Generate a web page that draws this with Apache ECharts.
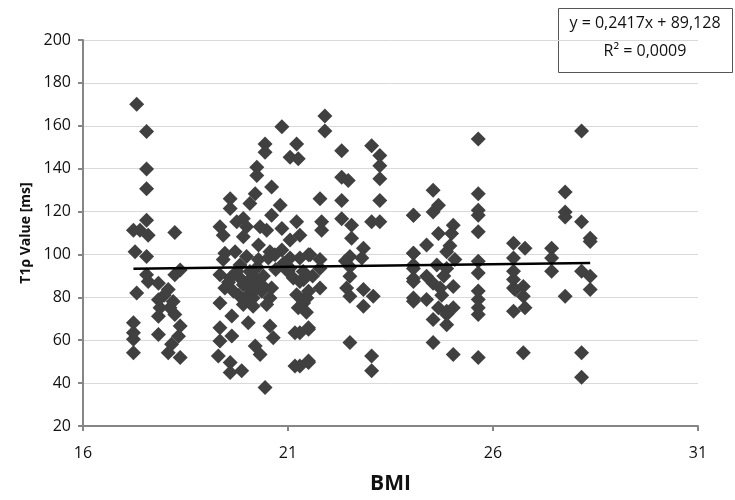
<!DOCTYPE html>
<html>
<head>
<meta charset="utf-8">
<script src="https://cdn.jsdelivr.net/npm/echarts@6/dist/echarts.min.js"></script>
<style>
  html, body { margin: 0; padding: 0; background: #fff; }
  #chart { width: 735px; height: 500px; }
</style>
</head>
<body>
<div id="chart"></div>
<script>
// BMI (x) and T1rho value in ms (y)
var bmiValues = [
  17.31, 17.55, 17.55, 17.55, 17.55, 17.23, 17.39, 17.59, 17.27, 17.55, 17.55, 17.59, 17.31, 17.84, 18.08, 18.24, 18.37, 18.24,
  17.23, 17.23, 17.23, 17.23, 17.84, 17.88, 17.84, 17.84, 18.12, 18.24, 18.37, 18.33, 18.16, 18.08, 18.37, 17.98, 18.20,
  20.85, 20.44, 20.44, 21.21, 21.05, 21.25, 20.24, 20.24, 20.60, 19.59, 19.59, 20.20, 20.07, 20.81, 19.34, 19.42, 19.75, 19.91,
  19.99, 19.91, 20.32, 20.48, 20.60, 20.85, 21.21, 21.05, 21.29, 20.28, 20.56, 20.85, 21.54, 19.46, 19.71, 19.42, 19.99, 20.28,
  20.52, 20.68, 21.05, 21.29, 19.34, 19.59, 19.83, 20.07, 19.46, 19.67, 19.91, 20.03, 20.15, 19.91, 20.15, 20.36, 20.60, 20.56,
  20.48, 21.05, 21.13, 21.38, 21.21, 21.46, 21.25, 21.38, 19.34, 19.63, 20.03, 19.34, 19.34, 19.63, 19.30, 19.59, 19.87, 19.59,
  20.20, 20.32, 20.56, 20.64, 21.17, 21.50, 21.17, 21.50, 20.44, 19.83, 20.20, 20.28, 20.00, 20.12, 19.95, 20.40, 20.70, 19.75,
  20.10, 20.25, 19.80, 20.90, 21.00, 20.35, 19.55, 20.05,
  21.90, 21.90, 22.31, 23.04, 23.24, 23.24, 23.24, 22.31, 22.47, 21.78, 22.31, 23.24, 22.31, 22.55, 22.55, 21.82, 21.82, 23.04,
  23.24, 24.06, 22.84, 22.51, 22.80, 21.50, 21.78, 21.78, 21.37, 21.29, 21.50, 21.37, 21.78, 22.51, 22.51, 22.43, 22.51, 22.84,
  23.08, 22.84, 24.06, 24.06, 24.06, 24.06, 21.50, 21.29, 21.50, 21.29, 22.51, 23.04, 23.04, 21.45, 21.60, 22.40,
  25.64, 25.64, 25.64, 25.64, 25.64, 24.54, 24.67, 24.54, 24.06, 25.03, 24.99, 24.67, 24.38, 24.06, 24.87, 25.07, 24.06, 24.63,
  24.87, 24.06, 24.38, 24.54, 24.71, 25.03, 24.06, 24.38, 24.67, 24.87, 25.03, 24.87, 24.54, 24.87, 24.54, 25.03, 25.64, 25.64,
  25.64, 25.64, 25.64, 25.64, 25.64, 24.80, 24.95, 24.75,
  26.50, 26.50, 26.50, 26.50, 26.50, 26.50, 26.78, 26.54, 26.74, 26.74, 26.78, 26.74, 27.43, 27.43, 27.43, 27.76, 27.76, 27.76,
  27.76, 28.16, 28.16, 28.37, 28.37, 28.16, 28.37, 28.37, 28.16, 28.16
];
var t1Values = [
  170.0, 157.3, 139.9, 130.6, 116.0, 111.3, 111.3, 109.0, 101.3, 99.0, 90.5, 87.4, 82.0, 86.6, 83.6, 110.2, 92.8, 90.5,
  68.1, 63.5, 60.4, 54.2, 78.9, 75.1, 71.2, 62.7, 75.1, 72.0, 66.6, 61.9, 58.1, 54.2, 51.9, 81.0, 78.0,
  159.5, 151.5, 147.6, 151.5, 145.3, 144.6, 140.7, 136.8, 131.4, 126.0, 121.4, 128.3, 123.7, 122.9, 112.9, 109.0, 115.2, 116.8,
  112.9, 108.3, 112.9, 111.3, 118.3, 112.1, 115.2, 106.7, 109.0, 104.4, 101.3, 102.1, 99.8, 100.5, 101.3, 97.6, 99.0, 97.6,
  98.4, 99.8, 98.4, 98.4, 90.5, 89.0, 89.0, 92.0, 84.3, 82.8, 85.9, 81.2, 79.7, 76.6, 75.8, 82.8, 84.3, 79.7,
  76.6, 93.6, 89.0, 88.3, 81.2, 79.7, 75.1, 77.4, 77.4, 71.3, 68.1, 65.8, 59.6, 62.0, 52.7, 49.6, 45.8, 45.0,
  57.3, 53.4, 66.6, 61.2, 63.5, 65.1, 48.0, 50.3, 37.9, 95.1, 89.0, 85.9, 87.0, 82.0, 79.0, 90.0, 93.0, 92.0,
  84.0, 94.0, 81.0, 96.0, 92.0, 86.0, 87.0, 78.0,
  164.6, 157.6, 148.4, 150.7, 146.1, 141.4, 135.3, 136.0, 134.5, 126.0, 125.2, 125.2, 116.7, 113.6, 107.5, 115.2, 111.3, 115.2,
  115.2, 118.3, 102.9, 99.0, 98.4, 99.8, 97.6, 93.6, 92.1, 87.4, 82.8, 78.9, 84.3, 94.3, 89.8, 84.3, 80.5, 83.6,
  80.5, 75.8, 100.5, 95.1, 88.8, 79.7, 65.8, 63.5, 49.6, 48.0, 58.9, 52.7, 45.8, 73.0, 90.0, 97.0,
  153.8, 128.3, 120.6, 118.3, 110.6, 129.9, 122.9, 119.8, 118.3, 113.6, 109.8, 109.8, 104.4, 100.5, 101.3, 97.6, 93.5, 95.1,
  93.5, 87.4, 89.8, 86.6, 84.3, 85.1, 78.2, 79.0, 75.1, 73.5, 75.1, 72.0, 69.7, 67.2, 58.9, 53.4, 96.8, 91.4,
  83.0, 79.0, 75.1, 72.0, 51.9, 90.0, 104.0, 81.0,
  105.2, 98.4, 92.2, 88.3, 84.3, 73.5, 102.9, 83.6, 85.1, 80.5, 75.1, 54.2, 102.9, 98.4, 92.2, 129.1, 119.8, 117.5,
  80.5, 157.6, 115.2, 107.5, 106.0, 92.2, 89.8, 83.6, 54.2, 42.7
];
// linear trend line end points (as drawn)
var trendBmi = [17.23, 28.37];
var trendT1 = [93.3, 96.0];
var xTicks = [16, 21, 26, 31];
var yMin = 20, yMax = 200, yStep = 20;

var points = bmiValues.map(function (b, i) { return [b, t1Values[i]]; });
var trend = trendBmi.map(function (b, i) { return [b, trendT1[i]]; });

var chart = echarts.init(document.getElementById('chart'));
var labelFont = { fontFamily: 'Open Sans', fontSize: 16, color: '#111' };

chart.setOption({
  animation: false,
  grid: { left: 83, right: 37, top: 40, bottom: 71 },
  xAxis: {
    type: 'value',
    min: xTicks[0], max: xTicks[xTicks.length - 1], interval: xTicks[1] - xTicks[0],
    name: 'BMI', nameLocation: 'middle', nameGap: 48,
    nameTextStyle: { fontFamily: 'Open Sans', fontSize: 21, fontWeight: 'bold', color: '#111' },
    axisLine: { lineStyle: { color: '#868686', width: 2 } },
    axisTick: { length: 5, lineStyle: { color: '#868686', width: 2 } },
    axisLabel: Object.assign({ margin: 19 }, labelFont),
    splitLine: { show: false }
  },
  yAxis: {
    type: 'value',
    min: yMin, max: yMax, interval: yStep,
    name: 'T1ρ Value [ms]', nameLocation: 'middle', nameGap: 46,
    nameTextStyle: { fontFamily: 'Open Sans', fontSize: 14, fontWeight: 'bold', color: '#111' },
    axisLine: { show: true, lineStyle: { color: '#868686', width: 2 } },
    axisTick: { show: true, length: 5, lineStyle: { color: '#868686', width: 2 } },
    axisLabel: Object.assign({ margin: 12 }, labelFont),
    splitLine: { show: true, lineStyle: { color: '#d9d9d9', width: 1 } }
  },
  series: [
    {
      type: 'scatter',
      data: points,
      symbol: 'diamond',
      symbolSize: 15,
      itemStyle: { color: '#404040', opacity: 1 }
    },
    {
      type: 'line',
      data: trend,
      symbol: 'none',
      lineStyle: { color: '#000', width: 2.5 },
      z: 5
    }
  ],
  graphic: [
    {
      type: 'rect',
      left: 558, top: 8,
      shape: { width: 174, height: 64 },
      style: { fill: '#fff', stroke: '#555', lineWidth: 1 }
    },
    {
      type: 'text',
      x: 645, y: 15,
      style: { text: 'y = 0,2417x + 89,128', font: '16px "Open Sans"', fill: '#111', align: 'center' }
    },
    {
      type: 'text',
      x: 645, y: 43,
      style: { text: 'R² = 0,0009', font: '16px "Open Sans"', fill: '#111', align: 'center' }
    }
  ]
});
</script>
</body>
</html>
